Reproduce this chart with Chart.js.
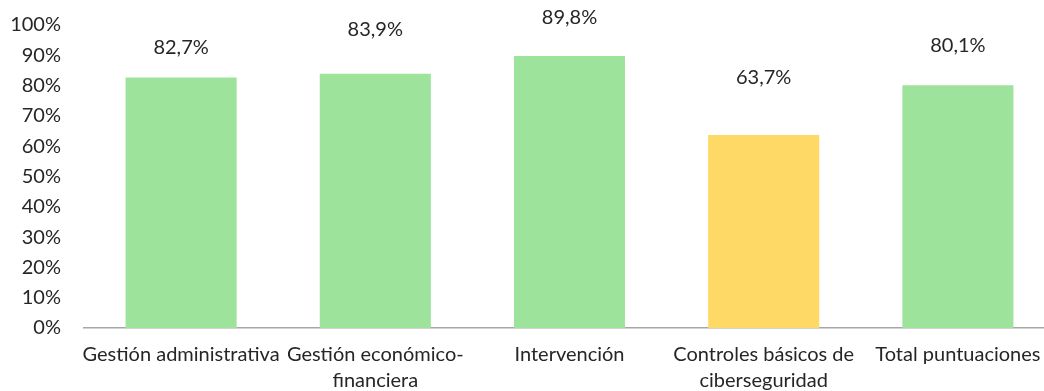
<!DOCTYPE html>
<html>
<head>
<meta charset="utf-8">
<script src="https://cdn.jsdelivr.net/npm/chart.js@4"></script>
<style>
  html, body { margin: 0; padding: 0; background: #fff; overflow: hidden; }
  #wrap { width: 1055px; height: 401px; position: relative; margin-top: -10px; }
</style>
</head>
<body>
<div id="wrap"><canvas id="chart"></canvas></div>
<script>
const categories = [
    ["Gestión administrativa"],
    ["Gestión económico-", "financiera"],
    ["Intervención"],
    ["Controles básicos de", "ciberseguridad"],
    ["Total puntuaciones"],
];
const values = [82.7, 83.9, 89.8, 63.7, 80.1];
const valueLabels = ["82,7%", "83,9%", "89,8%", "63,7%", "80,1%"];
const barColors = ["#9EE39B", "#9EE39B", "#9EE39B", "#FFD966", "#9EE39B"];
// distance of each label above its bar (manually placed in the original)
const labelLift = [30, 44, 38, 57, 40];

const FONT = "Lato, 'Open Sans', sans-serif";
const TEXT = "#262626";

const barLabels = {
    id: "barLabels",
    afterDatasetsDraw(chart) {
        const { ctx } = chart;
        const meta = chart.getDatasetMeta(0);
        ctx.save();
        ctx.font = "20px " + FONT;
        ctx.fillStyle = TEXT;
        ctx.textAlign = "center";
        ctx.textBaseline = "middle";
        meta.data.forEach((bar, i) => {
            ctx.fillText(valueLabels[i], bar.x, bar.y - labelLift[i]);
        });
        ctx.restore();
    },
};

const ctx = document.getElementById("chart").getContext("2d");
const chart = new Chart(ctx, {
    type: "bar",
    data: {
        labels: categories,
        datasets: [
            {
                data: values,
                backgroundColor: barColors,
                categoryPercentage: 1,
                barPercentage: 0.572,
            },
        ],
    },
    options: {
        responsive: true,
        maintainAspectRatio: false,
        animation: false,
        layout: { padding: { top: 4, right: 0, left: 0, bottom: 0 } },
        plugins: {
            legend: { display: false },
            tooltip: { enabled: false },
        },
        scales: {
            x: {
                grid: { display: false, drawTicks: false },
                border: { color: "#A6A6A6", width: 1.5 },
                ticks: {
                    color: TEXT,
                    font: { family: FONT, size: 20, lineHeight: 1.3 },
                    padding: 14,
                    maxRotation: 0,
                    autoSkip: false,
                },
                afterFit(scale) { scale.height = 63; },
            },
            y: {
                min: 0,
                max: 100,
                grid: { display: false, drawTicks: false },
                border: { display: false },
                ticks: {
                    stepSize: 10,
                    color: TEXT,
                    font: { family: FONT, size: 20 },
                    padding: 23,
                    callback: (v) => v + "%",
                },
                afterFit(scale) { scale.width = 84; },
            },
        },
    },
    plugins: [barLabels],
});
</script>
</body>
</html>
